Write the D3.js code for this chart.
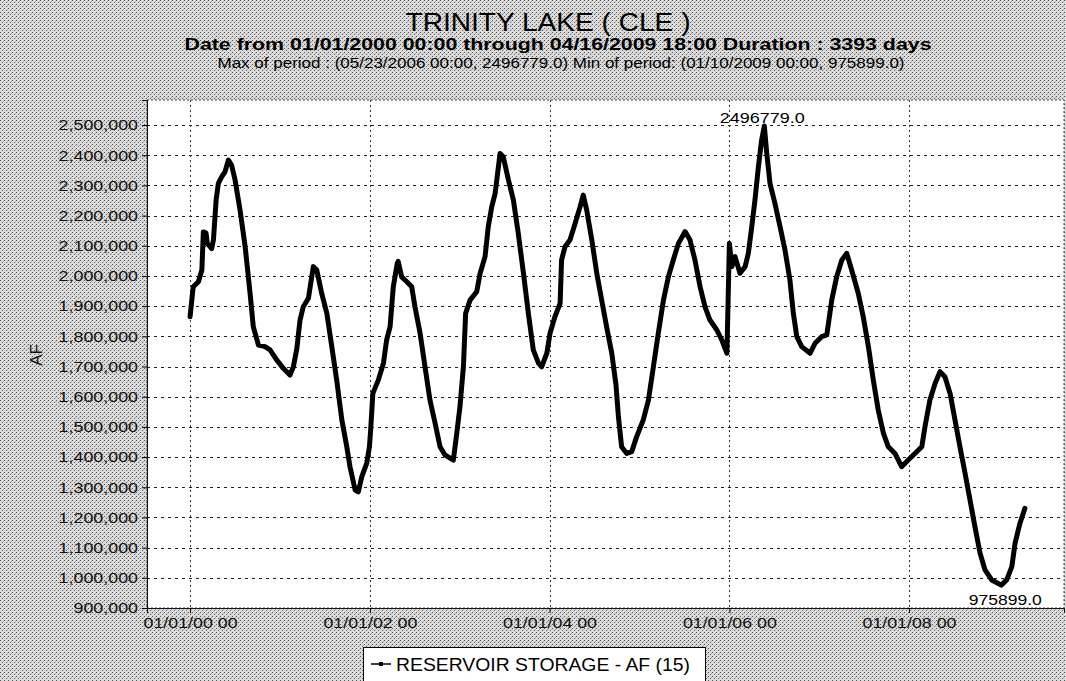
<!DOCTYPE html>
<html>
<head>
<meta charset="utf-8">
<script src="https://cdn.jsdelivr.net/npm/d3@7"></script>
<style>
  body { margin: 0; background: #fff; }
  svg { display: block; font-family: "Liberation Sans", Arial, sans-serif; }
</style>
</head>
<body>
<svg width="1066" height="681"></svg>
<script>
// days after 01/01/2000 00:00
const days = [0,7,13,34,48,54,65,70,88,95,
  106,115,129,142,156,169,183,203,224,244,
  257,278,305,325,352,379,406,420,434,447,
  460,481,501,515,535,556,576,596,617,637,
  650,671,684,698,718,729,734,743,765,786,
  799,813,826,842,846,860,881,901,914,935,
  955,975,996,1016,1036,1070,1084,1097,1111,1120,
  1138,1165,1179,1199,1212,1226,1240,1260,1273,1294,
  1314,1334,1355,1375,1395,1416,1429,1450,1463,1483,
  1504,1510,1524,1544,1565,1585,1598,1612,1633,1653,
  1673,1693,1714,1731,1741,1754,1775,1795,1815,1842,
  1863,1883,1903,1924,1944,1964,1985,2012,2032,2052,
  2073,2093,2113,2141,2161,2182,2192,2202,2215,2235,
  2256,2269,2283,2296,2310,2323,2334,2344,2357,2377,
  2398,2418,2438,2452,2466,2486,2520,2540,2567,2588,
  2608,2628,2649,2669,2689,2716,2736,2757,2777,2797,
  2818,2838,2865,2892,2919,2946,2974,2987,3007,3028,
  3048,3068,3089,3109,3129,3150,3170,3190,3211,3231,
  3258,3297,3319,3340,3353,3373,3393];

// reservoir storage, AF
const storage = [1865000,1920000,1964000,1981000,2020000,2146000,2142000,2108000,2091000,2119000,
  2252000,2307000,2329000,2345000,2384000,2367000,2318000,2219000,2097000,1942000,
  1832000,1771000,1766000,1755000,1722000,1694000,1672000,1699000,1760000,1854000,
  1898000,1926000,2031000,2020000,1942000,1876000,1766000,1655000,1523000,1434000,
  1368000,1291000,1285000,1335000,1379000,1434000,1490000,1611000,1655000,1711000,
  1788000,1832000,1964000,2042000,2048000,1997000,1981000,1964000,1898000,1810000,
  1699000,1589000,1512000,1434000,1407000,1390000,1479000,1567000,1699000,1876000,
  1920000,1948000,2009000,2064000,2163000,2229000,2274000,2406000,2395000,2318000,
  2252000,2141000,2009000,1876000,1755000,1711000,1699000,1744000,1810000,1865000,
  1909000,2053000,2097000,2119000,2174000,2229000,2268000,2219000,2119000,2009000,
  1920000,1832000,1744000,1640000,1534000,1434000,1412000,1418000,1467000,1523000,
  1589000,1699000,1810000,1920000,1997000,2053000,2108000,2147000,2119000,2053000,
  1964000,1898000,1854000,1821000,1788000,1744000,2108000,2031000,2064000,2009000,
  2031000,2075000,2163000,2252000,2362000,2450000,2496779,2406000,2307000,2241000,
  2163000,2086000,1987000,1876000,1799000,1766000,1744000,1777000,1799000,1805000,
  1920000,1997000,2053000,2075000,2020000,1942000,1865000,1766000,1655000,1556000,
  1479000,1434000,1412000,1368000,1390000,1412000,1434000,1501000,1589000,1644000,
  1683000,1666000,1611000,1523000,1434000,1346000,1258000,1169000,1081000,1026000,
  993000,975899,993000,1037000,1114000,1181000,1230000];

const xTickDates = ["2000-01-01", "2002-01-01", "2004-01-01", "2006-01-01", "2008-01-01"];
const yTickValues = d3.range(900000, 2500001, 100000);

const title = "TRINITY LAKE ( CLE )";
const subtitle = "Date from 01/01/2000 00:00 through 04/16/2009 18:00 Duration : 3393 days";
const periodLine = "Max of period : (05/23/2006 00:00, 2496779.0)  Min of period: (01/10/2009 00:00,  975899.0)";
const maxLabel = "2496779.0";
const minLabel = "975899.0";
const legendLabel = "RESERVOIR STORAGE - AF (15)";

const day0 = Date.UTC(2000, 0, 1);
const data = days.map((d, i) => ({ date: new Date(day0 + d * 864e5), value: storage[i] }));

const plot = { left: 147, top: 100, right: 1064, bottom: 608 };

const x = d3.scaleUtc()
  .domain([new Date(Date.UTC(1999, 6, 10)), new Date(Date.UTC(2009, 8, 22))])
  .range([plot.left, plot.right]);

const y = d3.scaleLinear()
  .domain([900000, 2583000])
  .range([plot.bottom, plot.top]);

const svg = d3.select("svg");

// dithered grey background like the scanned original
const pat = svg.append("defs").append("pattern")
  .attr("id", "dither")
  .attr("width", 4).attr("height", 4)
  .attr("patternUnits", "userSpaceOnUse");
pat.append("rect").attr("width", 4).attr("height", 4).attr("fill", "#dadada");
pat.append("rect").attr("x", 0).attr("y", 0).attr("width", 1).attr("height", 1).attr("fill", "#555");
pat.append("rect").attr("x", 2).attr("y", 2).attr("width", 1).attr("height", 1).attr("fill", "#666");
pat.append("rect").attr("x", 3).attr("y", 1).attr("width", 1).attr("height", 1).attr("fill", "#aaa");

svg.append("rect")
  .attr("width", 1066).attr("height", 681)
  .attr("fill", "url(#dither)");

svg.append("rect")
  .attr("x", plot.left).attr("y", plot.top)
  .attr("width", plot.right - plot.left)
  .attr("height", plot.bottom - plot.top)
  .attr("fill", "#fff")
  .attr("stroke", "#444")
  .attr("stroke-width", 1)
  .attr("stroke-dasharray", "2,2");

// grid
svg.append("g")
  .selectAll("line")
  .data(yTickValues)
  .enter()
  .append("line")
  .attr("x1", plot.left).attr("x2", plot.right)
  .attr("y1", d => Math.round(y(d)) + 0.5)
  .attr("y2", d => Math.round(y(d)) + 0.5)
  .attr("stroke", "#222")
  .attr("stroke-width", 1)
  .attr("stroke-dasharray", "3,4");

svg.append("g")
  .selectAll("line")
  .data(xTickDates)
  .enter()
  .append("line")
  .attr("x1", d => Math.round(x(new Date(d))) + 0.5)
  .attr("x2", d => Math.round(x(new Date(d))) + 0.5)
  .attr("y1", plot.top).attr("y2", plot.bottom)
  .attr("stroke", "#333")
  .attr("stroke-width", 1)
  .attr("stroke-dasharray", "2,3");

// axes
const yAxis = svg.append("g")
  .attr("transform", `translate(${plot.left},0)`)
  .call(d3.axisLeft(y).tickValues(yTickValues).tickFormat(d3.format(",")).tickSize(5).tickPadding(4));
yAxis.select(".domain").attr("stroke", "#111");
yAxis.selectAll("text")
  .attr("font-size", 15)
  .attr("fill", "#111")
  .each(function () {
    const w = this.getComputedTextLength();
    d3.select(this).attr("textLength", w * 1.19).attr("lengthAdjust", "spacingAndGlyphs");
  });

const xAxis = svg.append("g")
  .attr("transform", `translate(0,${plot.bottom})`)
  .call(d3.axisBottom(x).tickValues(xTickDates.map(d => new Date(d)))
    .tickFormat(d3.utcFormat("%m/%d/%y %H")).tickSize(5).tickPadding(4));
xAxis.select(".domain").attr("stroke", "#111");
xAxis.selectAll("text")
  .attr("font-size", 15)
  .attr("fill", "#111")
  .attr("textLength", 94)
  .attr("lengthAdjust", "spacingAndGlyphs");

svg.append("text")
  .attr("transform", "translate(42,355) rotate(-90)")
  .attr("text-anchor", "middle")
  .attr("font-size", 17)
  .attr("fill", "#111")
  .text("AF");

// series
const line = d3.line()
  .x(d => x(d.date))
  .y(d => y(d.value));

svg.append("path")
  .datum(data)
  .attr("d", line)
  .attr("fill", "none")
  .attr("stroke", "#000")
  .attr("stroke-width", 5)
  .attr("stroke-linejoin", "round")
  .attr("stroke-linecap", "round");

// max / min labels
const maxPt = data[d3.maxIndex(data, d => d.value)];
const minPt = data[d3.minIndex(data, d => d.value)];
svg.append("text")
  .attr("x", x(maxPt.date) - 2).attr("y", y(maxPt.value) - 3)
  .attr("text-anchor", "middle")
  .attr("font-size", 15)
  .attr("textLength", 85).attr("lengthAdjust", "spacingAndGlyphs")
  .text(maxLabel);
svg.append("text")
  .attr("x", x(minPt.date) + 4).attr("y", y(minPt.value) + 20)
  .attr("text-anchor", "middle")
  .attr("font-size", 15)
  .attr("textLength", 73).attr("lengthAdjust", "spacingAndGlyphs")
  .text(minLabel);

// titles
svg.append("text")
  .attr("x", 548).attr("y", 31)
  .attr("text-anchor", "middle")
  .attr("font-size", 25)
  .attr("textLength", 285).attr("lengthAdjust", "spacingAndGlyphs")
  .text(title);
svg.append("text")
  .attr("x", 558).attr("y", 50)
  .attr("text-anchor", "middle")
  .attr("font-size", 16)
  .attr("font-weight", "bold")
  .attr("textLength", 747).attr("lengthAdjust", "spacingAndGlyphs")
  .text(subtitle);
svg.append("text")
  .attr("x", 561).attr("y", 68)
  .attr("text-anchor", "middle")
  .attr("font-size", 14)
  .attr("textLength", 687).attr("lengthAdjust", "spacingAndGlyphs")
  .text(periodLine);

// legend
const legend = svg.append("g");
legend.append("rect")
  .attr("x", 363.5).attr("y", 647.5)
  .attr("width", 342).attr("height", 45)
  .attr("fill", "#fff")
  .attr("stroke", "#000");
legend.append("line")
  .attr("x1", 371).attr("x2", 391)
  .attr("y1", 664).attr("y2", 664)
  .attr("stroke", "#000").attr("stroke-width", 1.5);
legend.append("rect")
  .attr("x", 379).attr("y", 662)
  .attr("width", 4).attr("height", 4)
  .attr("fill", "#000");
legend.append("text")
  .attr("x", 396).attr("y", 671)
  .attr("font-size", 18)
  .attr("textLength", 294).attr("lengthAdjust", "spacingAndGlyphs")
  .text(legendLabel);
</script>
</body>
</html>
